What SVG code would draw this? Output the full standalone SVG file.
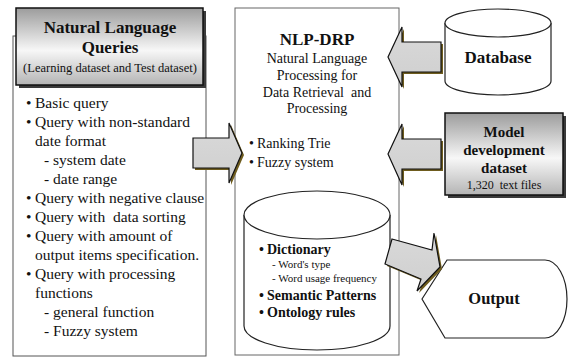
<svg xmlns="http://www.w3.org/2000/svg" width="574" height="357" viewBox="0 0 574 357">
  <style>
    text { font-family: "Liberation Serif", Tinos, "Nimbus Roman", "DejaVu Serif", serif; fill: #111; }
    .b { font-weight: bold; }
    .mid { text-anchor: middle; }
    .li { font-size: 15.5px; }
    .ctr { font-size: 14px; }
    .small { font-size: 11px; }
    .frame { fill: #fff; stroke: #555; stroke-width: 1; }
    .shape { fill: #fff; stroke: #222; stroke-width: 1.2; }
    .panel { fill: url(#shade); stroke: #111; stroke-width: 1.5; }
    .panelShadow { fill: #3a3a3a; }
    .arrow { fill: url(#arrowFill); stroke: #111; stroke-width: 1.2; stroke-linejoin: miter; }
    .arrowShadow { fill: #6e5c1e; }
  </style>
  <defs>
    <linearGradient id="shade" x1="0" y1="0" x2="0" y2="1">
      <stop offset="0" stop-color="#9c9c9c"/>
      <stop offset="0.55" stop-color="#f7f7f7"/>
      <stop offset="1" stop-color="#b4b4b4"/>
    </linearGradient>
    <linearGradient id="arrowFill" x1="0" y1="0" x2="0" y2="1">
      <stop offset="0" stop-color="#d9d9d9"/>
      <stop offset="1" stop-color="#cfcfcf"/>
    </linearGradient>
  </defs>

  <!-- Query panel -->
  <g id="queries">
    <rect class="frame" x="13" y="36" width="193" height="320"/>
    <rect class="panelShadow" x="19" y="11" width="187" height="77"/>
    <rect class="panel" x="16" y="8" width="187" height="77"/>
    <text class="b mid" x="110" y="33" font-size="17">Natural Language</text>
    <text class="b mid" x="110" y="53" font-size="17">Queries</text>
    <text class="mid" x="110" y="72" font-size="12.5">(Learning dataset and Test dataset)</text>
    <g class="li">
      <text x="26" y="108">•</text><text x="35" y="108">Basic query</text>
      <text x="26" y="127">•</text><text x="35" y="127">Query with non-standard</text>
      <text x="35" y="146">date format</text>
      <text x="44" y="165">- system date</text>
      <text x="44" y="184">- date range</text>
      <text x="26" y="203">•</text><text x="35" y="203">Query with negative clause</text>
      <text x="26" y="222">•</text><text x="35" y="222" xml:space="preserve">Query with  data sorting</text>
      <text x="26" y="241">•</text><text x="35" y="241">Query with amount of</text>
      <text x="35" y="260">output items specification.</text>
      <text x="26" y="279">•</text><text x="35" y="279">Query with processing</text>
      <text x="35" y="298">functions</text>
      <text x="44" y="317">- general function</text>
      <text x="44" y="336">- Fuzzy system</text>
    </g>
  </g>

  <!-- NLP-DRP core -->
  <g id="nlp-drp">
    <rect x="235" y="8" width="164" height="347" fill="#fff" stroke="#666" stroke-width="1"/>
    <text class="b mid" x="317" y="45" font-size="17">NLP-DRP</text>
    <text class="mid ctr" x="317" y="63">Natural Language</text>
    <text class="mid ctr" x="317" y="80">Processing for</text>
    <text class="mid ctr" x="317" y="97" xml:space="preserve">Data Retrieval  and</text>
    <text class="mid ctr" x="317" y="113">Processing</text>
    <text class="ctr" x="249" y="148">•</text><text class="ctr" x="257" y="148">Ranking Trie</text>
    <text class="ctr" x="249" y="167">•</text><text class="ctr" x="257" y="167">Fuzzy system</text>
  </g>

  <!-- Knowledge store inside the core -->
  <g id="knowledge">
    <path class="shape" d="M244,215 L244,326 A73,24 0 0 0 390,326 L390,215"/>
    <ellipse class="shape" cx="317" cy="215" rx="73" ry="24"/>
    <text class="b" x="259" y="254" font-size="14">•</text>
    <text class="b" x="267" y="254" font-size="14">Dictionary</text>
    <text class="small" x="272" y="268">- Word's type</text>
    <text class="small" x="272" y="282">- Word usage frequency</text>
    <text class="b" x="259" y="300" font-size="14">•</text>
    <text class="b" x="267" y="300" font-size="14">Semantic Patterns</text>
    <text class="b" x="259" y="317" font-size="14">•</text>
    <text class="b" x="267" y="317" font-size="14">Ontology rules</text>
  </g>

  <!-- Database -->
  <g id="database">
    <path class="shape" d="M445,23 L445,81 A53,14 0 0 0 551,81 L551,23"/>
    <ellipse class="shape" cx="498" cy="23" rx="53" ry="14"/>
    <text class="b mid" x="498" y="63" font-size="17">Database</text>
  </g>

  <!-- Model development dataset -->
  <g id="model-dataset">
    <rect class="panelShadow" x="448" y="116" width="118" height="82"/>
    <rect class="panel" x="445" y="113" width="118" height="82"/>
    <text class="b mid" x="504" y="137" font-size="15">Model</text>
    <text class="b mid" x="504" y="155" font-size="15">development</text>
    <text class="b mid" x="504" y="173" font-size="15">dataset</text>
    <text class="mid" x="504" y="189" font-size="12" xml:space="preserve">1,320  text files</text>
  </g>

  <!-- Output -->
  <g id="output">
    <path class="shape" d="M422,299 L447,260 L545,260 A22,39 0 0 1 545,338 L445,338 Z"/>
    <text class="b mid" x="494" y="304" font-size="16.5">Output</text>
  </g>

  <!-- Block arrows -->
  <g id="connectors">
    <polygon class="arrowShadow" points="195,140 231,140 231,125 244,155 231,185 231,170 195,170"/>
    <polygon class="arrow" points="193,138 229,138 229,123 242,153 229,183 229,168 193,168"/>

    <polygon class="arrowShadow" points="443,44 404,44 404,29 390,59 404,89 404,74 443,74"/>
    <polygon class="arrow" points="441,42 402,42 402,27 388,57 402,87 402,72 441,72"/>

    <polygon class="arrowShadow" points="443,141 404,141 404,126 390,156 404,187 404,171 443,171"/>
    <polygon class="arrow" points="441,139 402,139 402,124 388,154 402,185 402,169 441,169"/>

    <polygon class="arrowShadow" points="394,241 434,252 436,235 442,269 419,293 423,281 387,266"/>
    <polygon class="arrow" points="392,239 432,250 434,233 440,267 417,291 421,279 385,264"/>
  </g>
</svg>
